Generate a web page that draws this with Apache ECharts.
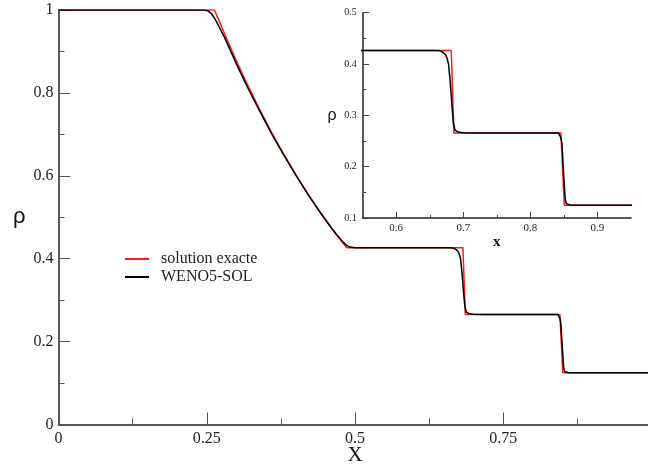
<!DOCTYPE html>
<html>
<head>
<meta charset="utf-8">
<script src="https://cdn.jsdelivr.net/npm/echarts@6/dist/echarts.min.js"></script>
<style>html,body{margin:0;padding:0;background:#fff;}#c{width:648px;height:465px;}</style>
</head>
<body>
<div id="c"></div>
<script>
// ---- data ----
const seriesNames = ['solution exacte', 'WENO5-SOL'];
const exactX   = [0, 0.263, 0.27, 0.28, 0.29, 0.30, 0.31, 0.32, 0.34, 0.36, 0.38, 0.40, 0.42, 0.44, 0.46, 0.47, 0.48, 0.486, 0.682, 0.686, 0.8455, 0.8505, 1.0];
const exactRho = [1, 1, 0.9768, 0.9428, 0.9096, 0.8775, 0.8462, 0.8158, 0.7577, 0.7030, 0.6514, 0.6030, 0.5574, 0.5146, 0.4745, 0.4554, 0.4370, 0.4263, 0.4263, 0.2656, 0.2656, 0.125, 0.125];
const wenoX   = [0, 0.245, 0.252, 0.258, 0.264, 0.27, 0.28, 0.29, 0.30, 0.31, 0.32, 0.34, 0.36, 0.38, 0.40, 0.42, 0.44, 0.46, 0.47, 0.48, 0.486, 0.492, 0.50, 0.52, 0.66, 0.6655, 0.670, 0.6735, 0.6755, 0.678, 0.6805, 0.683, 0.6852, 0.6877, 0.692, 0.70, 0.72, 0.842, 0.8435, 0.8455, 0.847, 0.849, 0.851, 0.852, 0.8535, 0.8555, 0.86, 1.0];
const wenoRho = [1, 1, 0.998, 0.991, 0.978, 0.962, 0.934, 0.902, 0.870, 0.840, 0.810, 0.754, 0.700, 0.650, 0.602, 0.5565, 0.5145, 0.4748, 0.4565, 0.440, 0.432, 0.428, 0.4267, 0.4264, 0.4264, 0.4258, 0.4225, 0.418, 0.412, 0.400, 0.365, 0.32, 0.285, 0.2713, 0.2675, 0.266, 0.2656, 0.2656, 0.263, 0.256, 0.245, 0.20, 0.155, 0.137, 0.128, 0.1252, 0.125, 0.125];
const insetXTicks = [0.6, 0.7, 0.8, 0.9];
const insetXMinorTicks = [0.65, 0.75, 0.85];

const pair = (xs, ys) => xs.map((x, i) => [x, ys[i]]);
const exactData = pair(exactX, exactRho);
const wenoData = pair(wenoX, wenoRho);

const SERIF = '"Liberation Serif", "Times New Roman", serif';
const SANS = '"Liberation Sans", Arial, sans-serif';
const AX = '#222';

const chart = echarts.init(document.getElementById('c'), null, {renderer: 'canvas'});
chart.setOption({
  animation: false,
  backgroundColor: '#fff',
  legend: {
    orient: 'vertical', left: 124, top: 251, padding: 0,
    itemWidth: 24, itemHeight: 14, itemGap: 2,
    data: seriesNames,
    itemStyle: {opacity: 0},
    textStyle: {fontFamily: SERIF, fontSize: 16, color: '#222', padding: [0, 0, 0, 7]}
  },
  grid: [
    {left: 58.5, top: 10, width: 593, height: 414.5, outerBoundsMode: 'none', containLabel: false},
    {left: 362.7, top: 12.7, width: 268.3, height: 205.3, outerBoundsMode: 'none', containLabel: false}
  ],
  xAxis: [
    {
      gridIndex: 0, type: 'value', min: 0, max: 1, interval: 0.25,
      name: 'X', nameLocation: 'middle', nameGap: 20, nameMoveOverlap: false,
      nameTextStyle: {fontFamily: SERIF, fontSize: 21, color: '#111'},
      axisLine: {lineStyle: {color: AX, width: 1.5}},
      axisTick: {inside: true, length: 12, lineStyle: {color: '#555', width: 1}},
      minorTick: {show: true, splitNumber: 2, length: 6, lineStyle: {color: '#555', width: 1}},
      splitLine: {show: false},
      axisLabel: {fontFamily: SERIF, fontSize: 16, color: '#222', margin: 6,
        formatter: v => (v >= 1 ? '' : String(v))}
    },
    {
      gridIndex: 1, type: 'value', min: 0.55, max: 0.95, position: 'bottom',
      name: 'x', nameLocation: 'middle', nameGap: 16,
      nameTextStyle: {fontFamily: SERIF, fontSize: 15, fontWeight: 'bold', color: '#111'},
      axisLine: {lineStyle: {color: AX, width: 1.5}},
      axisTick: {inside: true, length: 6, customValues: insetXTicks, lineStyle: {color: '#444', width: 1}},
      splitLine: {show: false},
      axisLabel: {fontFamily: SERIF, fontSize: 11, color: '#222', margin: 5, customValues: insetXTicks}
    },
    {
      gridIndex: 1, type: 'value', min: 0.55, max: 0.95, position: 'bottom', offset: 0,
      axisLine: {show: false},
      axisTick: {inside: true, length: 3, customValues: insetXMinorTicks, lineStyle: {color: '#444', width: 1}},
      splitLine: {show: false},
      axisLabel: {show: false}
    }
  ],
  yAxis: [
    {
      gridIndex: 0, type: 'value', min: 0, max: 1, interval: 0.2,
      name: 'ρ', nameLocation: 'middle', nameGap: 33, nameRotate: 0,
      nameTextStyle: {fontFamily: SANS, fontSize: 22, color: '#111'},
      axisLine: {show: true, lineStyle: {color: AX, width: 1.5}},
      axisTick: {show: true, inside: true, length: 12, lineStyle: {color: '#555', width: 1}},
      minorTick: {show: true, splitNumber: 2, length: 6, lineStyle: {color: '#555', width: 1}},
      splitLine: {show: false},
      axisLabel: {fontFamily: SERIF, fontSize: 16, color: '#222', margin: 5}
    },
    {
      gridIndex: 1, type: 'value', min: 0.1, max: 0.5, interval: 0.1,
      name: 'ρ', nameLocation: 'middle', nameGap: 26, nameRotate: 0,
      nameTextStyle: {fontFamily: SANS, fontSize: 16, color: '#111'},
      axisLine: {show: true, lineStyle: {color: AX, width: 1.5}},
      axisTick: {show: true, inside: true, length: 6.5, lineStyle: {color: '#444', width: 1}},
      minorTick: {show: true, splitNumber: 2, length: 3.5, lineStyle: {color: '#444', width: 1}},
      splitLine: {show: false},
      axisLabel: {fontFamily: SERIF, fontSize: 10, color: '#222', margin: 6}
    }
  ],
  series: [
    {name: seriesNames[0], type: 'line', xAxisIndex: 0, yAxisIndex: 0, data: exactData, symbol: 'none',
      lineStyle: {color: '#ff1a1a', width: 1.5}, itemStyle: {color: '#ff1a1a'}, z: 2},
    {name: seriesNames[1], type: 'line', xAxisIndex: 0, yAxisIndex: 0, data: wenoData, symbol: 'none',
      lineStyle: {color: '#000', width: 1.5}, itemStyle: {color: '#000'}, z: 3},
    {name: seriesNames[0], type: 'line', xAxisIndex: 1, yAxisIndex: 1, data: exactData, symbol: 'none',
      lineStyle: {color: '#ff1a1a', width: 1.5}, itemStyle: {color: '#ff1a1a'}, z: 2},
    {name: seriesNames[1], type: 'line', xAxisIndex: 1, yAxisIndex: 1, data: wenoData, symbol: 'none',
      lineStyle: {color: '#000', width: 1.5}, itemStyle: {color: '#000'}, z: 3}
  ]
});
</script>
</body>
</html>
